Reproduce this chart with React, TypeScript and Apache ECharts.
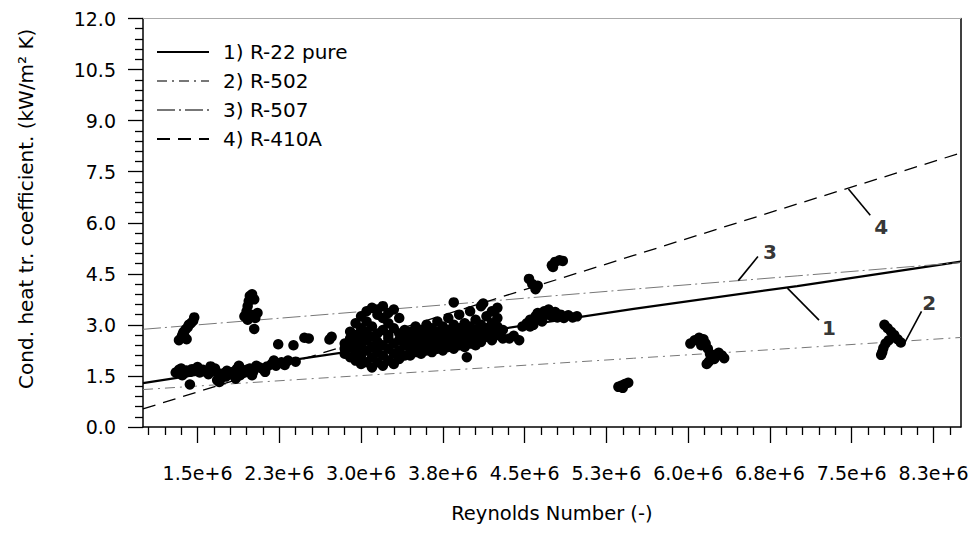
import React, { useEffect, useRef } from "react";
import * as echarts from "echarts";

const FONT = "DejaVu Sans";

// x in units of 1e6 (Reynolds number), y in kW/m²K
const xMajorTicks = [1.5, 2.25, 3.0, 3.75, 4.5, 5.25, 6.0, 6.75, 7.5, 8.25];

const lineX = [1.0, 2.5, 4.0, 5.5, 7.0, 8.5];
const r22Y = [1.29, 2.03, 2.74, 3.47, 4.14, 4.86];
const r502Y = [1.1, 1.41, 1.71, 2.02, 2.32, 2.63];
const r507Y = [2.87, 3.26, 3.65, 4.05, 4.44, 4.83];
const r410aY = [0.53, 2.03, 3.53, 5.04, 6.55, 8.05];

const seriesNames = ["1) R-22 pure", "2) R-502", "3) R-507", "4) R-410A"];

const clusterLowRe: number[][] = [
  [1.33, 2.55], [1.35, 2.62], [1.36, 2.7], [1.38, 2.66], [1.37, 2.78], [1.39, 2.86],
  [1.41, 2.93], [1.42, 3.0], [1.44, 3.05], [1.46, 3.12], [1.47, 3.22], [1.4, 2.58],
  [1.3, 1.6], [1.33, 1.68], [1.35, 1.72], [1.38, 1.58], [1.4, 1.66], [1.43, 1.62],
  [1.45, 1.7], [1.48, 1.65], [1.52, 1.6], [1.55, 1.68], [1.58, 1.62], [1.6, 1.55],
  [1.63, 1.66], [1.66, 1.72], [1.68, 1.6], [1.7, 1.5], [1.72, 1.45], [1.74, 1.58],
  [1.77, 1.65], [1.8, 1.55], [1.83, 1.62], [1.86, 1.7], [1.89, 1.52], [1.92, 1.6],
  [1.95, 1.68], [1.98, 1.72], [2.01, 1.62], [2.04, 1.8], [2.07, 1.75], [2.1, 1.7],
  [2.14, 1.78], [2.18, 1.85], [2.22, 1.8], [2.27, 1.9], [2.33, 1.95], [2.4, 1.92],
  [1.36, 1.52], [1.5, 1.76], [1.62, 1.78], [1.76, 1.48], [1.88, 1.8], [2.0, 1.52],
  [2.12, 1.62], [2.2, 1.95], [2.3, 1.82], [1.85, 1.42],
  [1.43, 1.25], [1.68, 1.38], [1.7, 1.32],
  [1.93, 3.25], [1.95, 3.4], [1.96, 3.55], [1.97, 3.7], [1.98, 3.85], [2.0, 3.9],
  [2.02, 3.75], [1.99, 3.3], [2.03, 3.2], [2.05, 3.35], [1.96, 3.15], [2.02, 2.88],
  [2.24, 2.43], [2.38, 2.4], [2.48, 2.62], [2.52, 2.6], [2.71, 2.57], [2.73, 2.65],
];

const clusterMidRe: number[][] = [
  [2.85, 2.3], [2.85, 2.45], [2.85, 2.15],
  [2.9, 2.6], [2.9, 2.35], [2.9, 2.05], [2.9, 2.8],
  [2.95, 2.5], [2.95, 2.2], [2.95, 1.95], [2.95, 3.05], [2.95, 2.7],
  [3.0, 2.4], [3.0, 2.1], [3.0, 1.85], [3.0, 2.9], [3.0, 3.25], [3.0, 2.65],
  [3.05, 2.55], [3.05, 2.25], [3.05, 1.9], [3.05, 3.4], [3.05, 3.1], [3.05, 2.8],
  [3.1, 2.35], [3.1, 2.05], [3.1, 1.75], [3.1, 3.5], [3.1, 2.95], [3.1, 2.65],
  [3.15, 2.5], [3.15, 2.2], [3.15, 1.9], [3.15, 3.3], [3.15, 3.45], [3.15, 2.75],
  [3.2, 2.4], [3.2, 2.1], [3.2, 1.8], [3.2, 3.55], [3.2, 3.2], [3.2, 2.85],
  [3.25, 2.6], [3.25, 2.3], [3.25, 1.95], [3.25, 3.35], [3.25, 3.05], [3.25, 2.7],
  [3.3, 2.45], [3.3, 2.15], [3.3, 1.85], [3.3, 3.45], [3.3, 2.9],
  [3.35, 2.55], [3.35, 2.25], [3.35, 2.0], [3.35, 3.2], [3.35, 2.75],
  [3.4, 2.4], [3.4, 2.1], [3.4, 2.85], [3.4, 2.6],
  [3.45, 2.3], [3.45, 2.55], [3.45, 2.8], [3.45, 2.1],
  [3.5, 2.45], [3.5, 2.7], [3.5, 2.2], [3.5, 2.95],
  [3.55, 2.35], [3.55, 2.6], [3.55, 2.85], [3.55, 2.15],
  [3.6, 2.5], [3.6, 2.75], [3.6, 2.25], [3.6, 3.0],
  [3.65, 2.4], [3.65, 2.65], [3.65, 2.9], [3.65, 2.2],
  [3.7, 2.55], [3.7, 2.8], [3.7, 2.3], [3.7, 3.1],
  [3.75, 2.45], [3.75, 2.7], [3.75, 2.95], [3.75, 2.25],
  [3.8, 2.6], [3.8, 2.85], [3.8, 2.35], [3.8, 3.2],
  [3.85, 2.5], [3.85, 2.75], [3.85, 3.0], [3.85, 2.3], [3.85, 3.66],
  [3.9, 2.65], [3.9, 2.9], [3.9, 2.4], [3.9, 3.3],
  [3.95, 2.55], [3.95, 2.8], [3.95, 3.05], [3.95, 2.35], [3.97, 2.05],
  [4.0, 2.7], [4.0, 2.95], [4.0, 2.45], [4.0, 3.4],
  [4.05, 2.6], [4.05, 2.85], [4.05, 3.15], [4.05, 2.4],
  [4.1, 2.75], [4.1, 3.0], [4.1, 2.5], [4.1, 3.55],
  [4.15, 2.65], [4.15, 2.9], [4.15, 3.25], [4.12, 3.63],
  [4.2, 2.8], [4.2, 3.05], [4.2, 3.4], [4.2, 2.55],
  [4.25, 2.7], [4.25, 2.95], [4.25, 3.2], [4.25, 3.5],
  [4.3, 2.85], [4.3, 2.6],
];

const clusterHighRe: number[][] = [
  [4.36, 2.6], [4.4, 2.68], [4.45, 2.55], [4.48, 2.95], [4.52, 3.05], [4.55, 3.15],
  [4.58, 3.0], [4.6, 3.25], [4.62, 3.35], [4.65, 3.2], [4.68, 3.4], [4.7, 3.3],
  [4.72, 3.45], [4.75, 3.25], [4.78, 3.38], [4.8, 3.22], [4.83, 3.3], [4.86, 3.2],
  [4.9, 3.28], [4.94, 3.22], [4.98, 3.25], [4.55, 2.95], [4.66, 3.1],
  [4.54, 4.35], [4.57, 4.2], [4.6, 4.05], [4.62, 4.15],
  [4.75, 4.75], [4.78, 4.85], [4.82, 4.9], [4.85, 4.88], [4.76, 4.7],
  [5.36, 1.18], [5.39, 1.22], [5.42, 1.26], [5.45, 1.3], [5.4, 1.15],
  [6.02, 2.45], [6.06, 2.55], [6.1, 2.62], [6.14, 2.58], [6.16, 2.45], [6.18, 2.3],
  [6.2, 2.15], [6.22, 2.05], [6.19, 1.92], [6.17, 1.85], [6.25, 2.12], [6.28, 2.18],
  [6.31, 2.1], [6.33, 2.02], [6.12, 2.4], [6.24, 2.0],
  [7.8, 3.0], [7.83, 2.9], [7.86, 2.8], [7.89, 2.7], [7.92, 2.58], [7.95, 2.48],
  [7.78, 2.2], [7.79, 2.32], [7.81, 2.45], [7.84, 2.55], [7.77, 2.12],
];

const leaderStart: number[][] = [[7.47, 6.99], [6.46, 4.3], [6.91, 4.08], [7.99, 2.5]];
const leaderEnd: number[][] = [[7.67, 6.22], [6.64, 5.01], [7.2, 3.14], [8.14, 3.4]];
const leaderLabelPos: number[][] = [[7.77, 5.87], [6.75, 5.15], [7.29, 2.91], [8.21, 3.63]];
const leaderLabels = ["4", "3", "1", "2"];

const X_MIN = 1.0;
const X_MAX = 8.5;

export default function App() {
  const ref = useRef<HTMLDivElement>(null);

  useEffect(() => {
    if (!ref.current) return;
    const chart = echarts.init(ref.current, undefined, { renderer: "svg" });

    const minorX: number[] = [];
    for (let i = 7; i <= 56; i++) {
      const v = Math.round(i * 15) / 100;
      if (i % 5 !== 0 && v > X_MIN && v < X_MAX) minorX.push(v);
    }

    const toPairs = (ys: number[]) => lineX.map((x, i) => [x, ys[i]]);
    const lineSeries = (name: string, ys: number[], lineStyle: any) => ({
      name,
      type: "line",
      data: toPairs(ys),
      symbol: "none",
      smooth: false,
      lineStyle,
      itemStyle: { color: lineStyle.color },
      z: 2,
      silent: true,
    });

    const scatterData = [...clusterLowRe, ...clusterMidRe, ...clusterHighRe];

    const leaderSeries = leaderStart.map((s, i) => ({
      type: "line",
      data: [s, leaderEnd[i]],
      symbol: "none",
      lineStyle: { color: "#000", width: 1.6 },
      itemStyle: { color: "#000" },
      silent: true,
      z: 3,
    }));

    const option: any = {
      animation: false,
      backgroundColor: "#fff",
      grid: { left: 121, right: 6, top: 10.5, bottom: 91.5 },
      legend: {
        data: seriesNames,
        orient: "vertical",
        left: 143,
        top: 29,
        itemWidth: 52,
        itemHeight: 20,
        itemGap: 9,
        itemStyle: { opacity: 0, color: "rgba(0,0,0,0)", borderWidth: 0 },
        textStyle: {
          fontFamily: FONT,
          fontSize: 20,
          color: "#000",
          padding: [0, 0, 0, 9],
          lineHeight: 20,
        },
      },
      xAxis: [
        {
          type: "value",
          min: X_MIN,
          max: X_MAX,
          position: "bottom",
          name: "Reynolds Number (-)",
          nameLocation: "middle",
          nameGap: 76,
          nameTextStyle: { fontFamily: FONT, fontSize: 19.5, color: "#000", verticalAlign: "top" },
          splitLine: { show: false },
          axisLine: { show: true, onZero: false, lineStyle: { color: "#000", width: 1.5 } },
          axisTick: {
            show: true,
            inside: false,
            length: 16,
            customValues: xMajorTicks,
            lineStyle: { color: "#000", width: 1.3 },
          },
          axisLabel: {
            show: true,
            customValues: xMajorTicks,
            margin: 36,
            fontFamily: FONT,
            fontSize: 19,
            color: "#000",
            formatter: (v: number) => v.toFixed(1) + "e+6",
          },
        },
        {
          type: "value",
          min: X_MIN,
          max: X_MAX,
          position: "bottom",
          splitLine: { show: false },
          axisLine: { show: false },
          axisLabel: { show: false },
          axisTick: {
            show: true,
            inside: false,
            length: 8,
            customValues: minorX,
            lineStyle: { color: "#000", width: 1.3 },
          },
        },
        {
          type: "value",
          min: X_MIN,
          max: X_MAX,
          position: "top",
          splitLine: { show: false },
          axisLine: { show: true, onZero: false, lineStyle: { color: "#aaa", width: 1 } },
          axisLabel: { show: false },
          axisTick: { show: false },
        },
      ],
      yAxis: [
        {
          type: "value",
          min: 0,
          max: 12,
          interval: 1.5,
          name: "Cond. heat tr. coefficient. (kW/m² K)",
          nameLocation: "middle",
          nameGap: 107,
          nameRotate: 90,
          nameTextStyle: {
            fontFamily: FONT,
            fontSize: 20,
            color: "#000",
            padding: [0, 0, 0, 28],
          },
          splitLine: { show: false },
          axisLine: { show: true, onZero: false, lineStyle: { color: "#000", width: 1.5 } },
          axisTick: { show: true, inside: false, length: 15, lineStyle: { color: "#000", width: 1.3 } },
          minorTick: { show: true, splitNumber: 5, length: 8, lineStyle: { color: "#000", width: 1.3 } },
          minorSplitLine: { show: false },
          axisLabel: {
            margin: 27,
            fontFamily: FONT,
            fontSize: 19,
            color: "#000",
            formatter: (v: number) => v.toFixed(1),
          },
        },
        {
          type: "value",
          min: 0,
          max: 12,
          position: "right",
          splitLine: { show: false },
          axisLine: { show: true, onZero: false, lineStyle: { color: "#000", width: 1.5 } },
          axisLabel: { show: false },
          axisTick: { show: false },
        },
      ],
      series: [
        lineSeries(seriesNames[0], r22Y, { color: "#000", width: 2.2, type: "solid" }),
        lineSeries(seriesNames[1], r502Y, { color: "#777", width: 1, type: [10, 5, 2, 5] }),
        lineSeries(seriesNames[2], r507Y, { color: "#777", width: 1, type: [18, 4, 2, 4] }),
        lineSeries(seriesNames[3], r410aY, { color: "#000", width: 1.3, type: [13, 8] }),
        ...leaderSeries,
        {
          type: "scatter",
          data: leaderLabelPos.map((p, i) => ({ value: p, name: leaderLabels[i] })),
          symbolSize: 0,
          silent: true,
          itemStyle: { color: "#000" },
          label: {
            show: true,
            position: [0, 0],
            align: "center",
            verticalAlign: "middle",
            formatter: (p: any) => p.name,
            fontFamily: FONT,
            fontSize: 20,
            fontWeight: "bold",
            color: "#000",
            textBorderWidth: 0,
          },
          z: 4,
        },
        {
          name: "data",
          type: "scatter",
          data: scatterData,
          symbol: "circle",
          symbolSize: 10.5,
          itemStyle: { color: "#000", opacity: 1 },
          silent: true,
          z: 3,
        },
      ],
    };

    chart.setOption(option);
    return () => chart.dispose();
  }, []);

  return <div ref={ref} style={{ width: 963, height: 520 }} />;
}
